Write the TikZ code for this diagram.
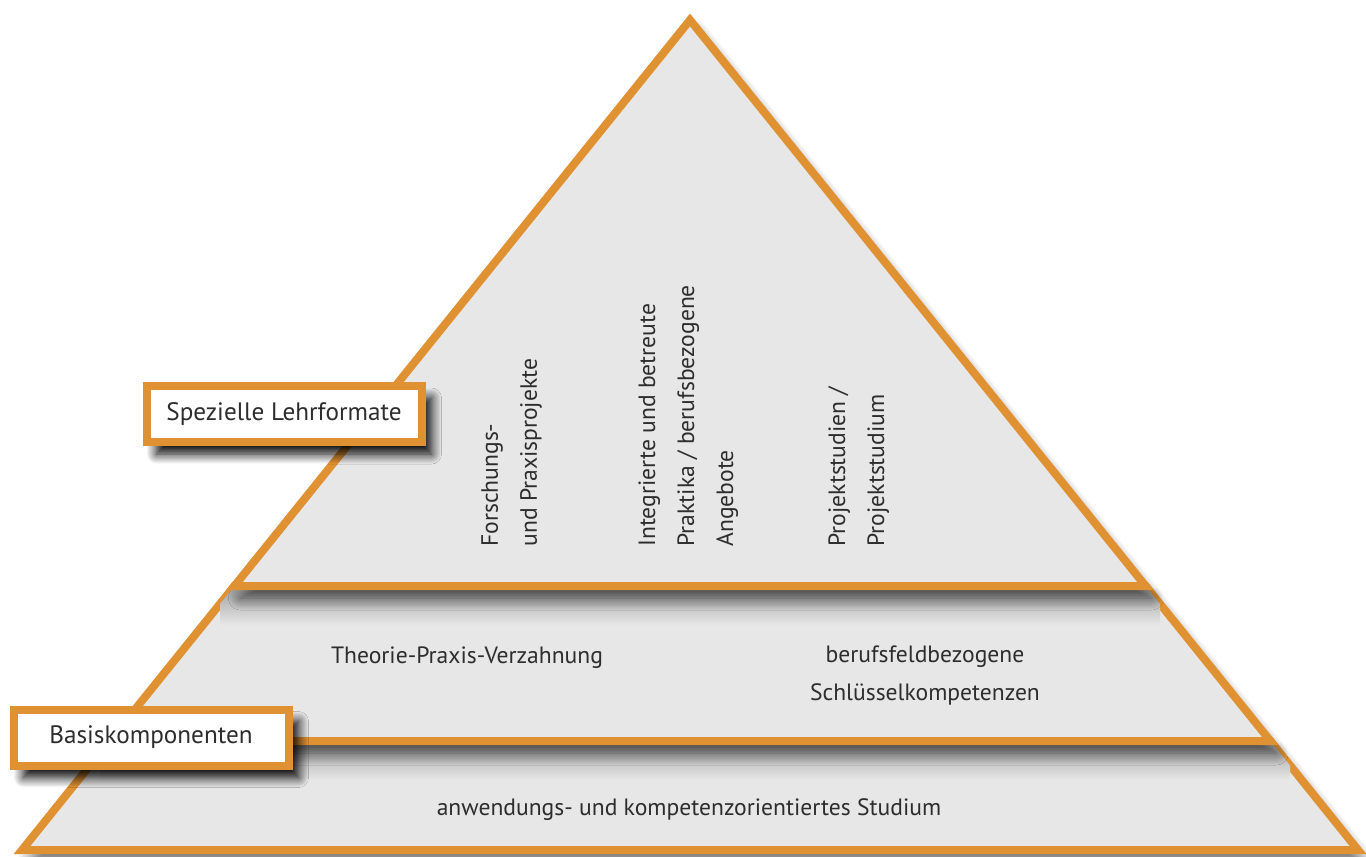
\documentclass[tikz,border=0pt]{standalone}
\usepackage{fontspec}
\setmainfont{PT Sans}
\usepackage{tikz}
\usetikzlibrary{shadows.blur,positioning}
\definecolor{pyrorange}{RGB}{224,145,50}
\definecolor{pyrgrey}{RGB}{231,231,231}
\definecolor{pyrtext}{RGB}{45,45,45}

\begin{document}
\begin{tikzpicture}[
    x=0.5pt,y=-0.5pt,
    layer/.style={fill=pyrgrey,draw=pyrorange,line width=4pt,line join=miter,
      blur shadow={shadow xshift=3pt,shadow yshift=-6pt,shadow opacity=60,shadow blur radius=6pt,shadow blur steps=12}},
    bandshade/.style={top color=black!38,bottom color=pyrgrey},
    tag/.style={rectangle,draw=pyrorange,fill=white,line width=4pt,minimum width=137.5pt,
      minimum height=28pt,font=\fontsize{12.6}{15}\selectfont,text=pyrtext,
      blur shadow={shadow xshift=5pt,shadow yshift=-6pt,shadow opacity=100,shadow blur radius=5pt,shadow blur steps=12}},
    txt/.style={align=center,font=\fontsize{11.8}{19}\selectfont,text=pyrtext},
    vtxt/.style={align=left,rotate=90,anchor=north west,inner sep=0pt,font=\fontsize{11.8}{19.5}\selectfont,text=pyrtext}]
    \useasboundingbox (0,0) rectangle (1366,857);
    % pyramid layers, bottom first
    \filldraw[layer] (22,850) -- (109.6,741) -- (1270.4,741) -- (1358,850) -- cycle;
    \begin{scope}
      \clip (22,850) -- (109.6,741) -- (1270.4,741) -- (1358,850) -- cycle;
      \shade[bandshade] (100,741) rectangle (1290,780);
    \end{scope}
    \filldraw[layer] (109.6,741) -- (234.4,586) -- (1145.6,586) -- (1270.4,741) -- cycle;
    \begin{scope}
      \clip (109.6,741) -- (234.4,586) -- (1145.6,586) -- (1270.4,741) -- cycle;
      \shade[bandshade] (220,586) rectangle (1160,625);
    \end{scope}
    \filldraw[layer] (690,20) -- (1145.6,586) -- (234.4,586) -- cycle;
    % top layer
    \node[vtxt] (forsch) at (481,547) {Forschungs-\\und Praxisprojekte};
    \node[vtxt] (integ) at (638,547) {Integrierte und betreute\\Praktika / berufsbezogene\\Angebote};
    \node[vtxt] (projekt) at (828,547) {Projektstudien /\\Projektstudium};
    % middle layer
    \node[txt] (theorie) at (467,658) {Theorie-Praxis-Verzahnung};
    \node[txt] (schluessel) at (925,676) {berufsfeldbezogene\\Schlüsselkompetenzen};
    % bottom layer
    \node[txt] (studium) at (689,810) {anwendungs- und kompetenzorientiertes Studium};
    % labels
    \node[tag] (spezial) at (284,414) {Spezielle Lehrformate};
    \node[tag] (basis) at (151,737.5) {Basiskomponenten};
  \end{tikzpicture}
\end{document}
